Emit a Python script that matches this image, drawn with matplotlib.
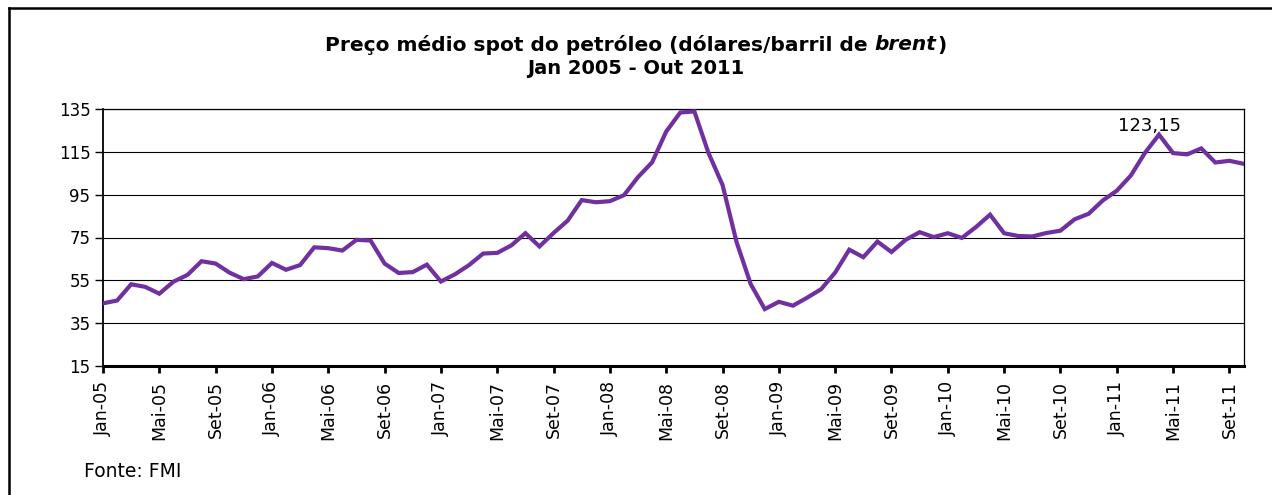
import matplotlib
matplotlib.use("Agg")
import matplotlib.pyplot as plt
from matplotlib.lines import Line2D

# Preço médio mensal do Brent (USD/barril), Jan 2005 - Out 2011, fonte FMI
precos_2005 = [44.2, 45.5, 53.1, 51.9, 48.7, 54.3, 57.5, 63.9, 62.8, 58.5, 55.5, 56.8]
precos_2006 = [63.1, 59.9, 62.1, 70.4, 70.0, 68.9, 73.9, 73.6, 62.8, 58.4, 58.8, 62.3]
precos_2007 = [54.4, 57.8, 62.1, 67.5, 67.8, 71.3, 77.0, 70.8, 77.1, 82.9, 92.5, 91.5]
precos_2008 = [92.0, 94.8, 103.3, 110.2, 124.6, 133.5, 134.0, 114.6, 99.6, 72.8, 53.2, 41.5]
precos_2009 = [44.9, 43.1, 46.8, 50.8, 58.6, 69.3, 65.8, 73.1, 68.2, 73.9, 77.5, 75.2]
precos_2010 = [77.0, 74.8, 79.9, 85.7, 77.0, 75.7, 75.5, 77.1, 78.2, 83.5, 86.1, 92.3]
precos_2011 = [96.9, 104.0, 114.6, 123.15, 114.5, 113.9, 116.7, 110.1, 110.9, 109.5]

meses = ["Jan", "Fev", "Mar", "Abr", "Mai", "Jun", "Jul", "Ago", "Set", "Out", "Nov", "Dez"]
anos = ["05", "06", "07", "08", "09", "10", "11"]

precos = (precos_2005 + precos_2006 + precos_2007 + precos_2008
          + precos_2009 + precos_2010 + precos_2011)
rotulos = [f"{m}-{a}" for a in anos for m in meses][:len(precos)]
x = list(range(len(precos)))

destaque = 75  # Abr-11
y_ticks = [15, 35, 55, 75, 95, 115, 135]

W, H = 1272, 495
fig = plt.figure(figsize=(W / 100, H / 100), dpi=100)
fig.patch.set_facecolor("white")

ax = fig.add_axes([103 / W, 1 - 365.7 / H, (1243.5 - 103) / W, (365.7 - 109.3) / H])
ax.plot(x, precos, color="#7030A0", lw=3.0, solid_joinstyle="miter", zorder=3)
ax.set_xlim(0, len(precos) - 1)
ax.set_ylim(15, 135)
ax.set_yticks(y_ticks)
ax.set_yticklabels([str(v) for v in y_ticks])
ax.set_xticks(x[::4])
ax.set_xticklabels(rotulos[::4], rotation=90, ha="center", va="top")
ax.grid(axis="y", color="black", lw=0.8)
ax.set_axisbelow(True)

for s in ("top", "right"):
    ax.spines[s].set_linewidth(0.9)
ax.spines["left"].set_linewidth(1.3)
ax.spines["bottom"].set_linewidth(2.2)
ax.tick_params(axis="y", direction="out", length=6, width=1, labelsize=12, pad=3)
ax.tick_params(axis="x", direction="out", length=5, width=2, labelsize=12.5, pad=6)

ax.annotate(f"{precos[destaque]:.2f}".replace(".", ","), xy=(destaque, precos[destaque]),
            xytext=(-7, 2.5), textcoords="offset points", ha="center", va="baseline",
            fontsize=13)

# título com "brent" em itálico
fig.canvas.draw()
r = fig.canvas.get_renderer()
partes = [("Preço médio spot do petróleo (dólares/barril de ", "normal"),
          ("brent", "italic"), (")", "normal")]
y1 = 1 - 45 / H
textos = [fig.text(0, y1, t, fontsize=14.5, fontweight="bold", style=st, va="center")
          for t, st in partes]
larg = [t.get_window_extent(r).width for t in textos]
larg[1] += 1
x0 = (W - sum(larg)) / 2
for t, w in zip(textos, larg):
    t.set_x(x0 / W)
    x0 += w
fig.text(0.5, 1 - 68 / H, "Jan 2005 - Out 2011", fontsize=14, fontweight="bold",
         ha="center", va="center")

fig.text(84 / W, 1 - 477 / H, "Fonte: FMI", fontsize=13.5, va="baseline")

# moldura
fig.add_artist(Line2D([8.5 / W, 8.5 / W], [0, 1 - 8 / H], color="black", lw=1.8))
fig.add_artist(Line2D([8.5 / W, 1], [1 - 8 / H, 1 - 8 / H], color="black", lw=1.8))

fig.savefig("out.png", dpi=100)
